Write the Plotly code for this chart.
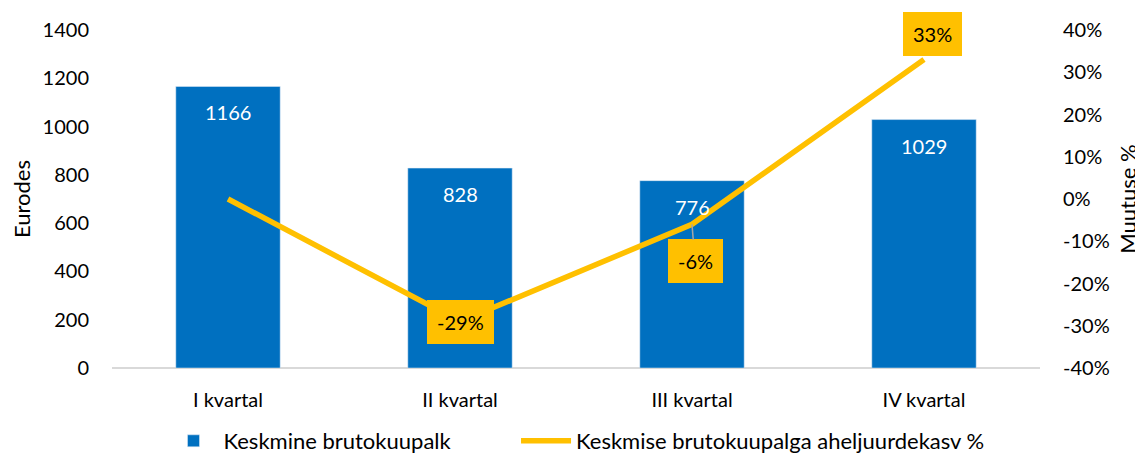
import plotly.graph_objects as go

categories = ["I kvartal", "II kvartal", "III kvartal", "IV kvartal"]
wages = [1166, 828, 776, 1029]
change = [0.0, -0.29, -0.06, 0.33]
change_labels = [None, "-29%", "-6%", "33%"]
y2_tickvals = [-0.4, -0.3, -0.2, -0.1, 0.0, 0.1, 0.2, 0.3, 0.4]
y2_ticktext = ["-40%", "-30%", "-20%", "-10%", "0%", "10%", "20%", "30%", "40%"]

BLUE = "#0070C0"
YELLOW = "#FFC000"
FONT = "Lato, 'Open Sans', sans-serif"

fig = go.Figure()
fig.add_trace(go.Bar(
    x=categories, y=wages, name="Keskmine brutokuupalk",
    marker_color=BLUE, width=0.45, hoverinfo="skip", legend="legend",
))
fig.add_trace(go.Scatter(
    x=categories, y=change, name="Keskmise brutokuupalga aheljuurdekasv %",
    mode="lines", line=dict(color=YELLOW, width=5.5), yaxis="y2", hoverinfo="skip",
    legend="legend2",
))

# bar value labels (white, inside near top)
for c, v in zip(categories, wages):
    fig.add_annotation(x=c, y=v, xref="x", yref="y", text=str(v), showarrow=False,
                       yanchor="middle", yshift=-26,
                       font=dict(color="white", size=20, family=FONT))

offsets = {1: (0, 0, False), 2: (3, 37, True), 3: (8, -26, False)}
for i, lab in enumerate(change_labels):
    if lab is None:
        continue
    ax, ay, arrow = offsets[i]
    fig.add_annotation(
        x=categories[i], y=change[i], xref="x", yref="y2", text=lab,
        showarrow=True, arrowhead=0, arrowwidth=1.5,
        arrowcolor="#A6A6A6" if arrow else "rgba(0,0,0,0)",
        ax=ax, ay=ay, standoff=0,
        bgcolor=YELLOW, borderpad=9, bordercolor=YELLOW, borderwidth=1,
        font=dict(color="black", size=20, family=FONT),
    )

legend_common = dict(orientation="h", xanchor="left", xref="container",
                     y=-0.056, yanchor="bottom", yref="container",
                     font=dict(size=22), itemwidth=50, bgcolor="rgba(0,0,0,0)")

fig.update_layout(
    width=1135, height=454,
    margin=dict(l=104, r=103, t=22, b=94, autoexpand=False),
    plot_bgcolor="white", paper_bgcolor="white",
    font=dict(family=FONT, size=20, color="black"),
    showlegend=True,
    legend=dict(x=0.137, **legend_common),
    legend2=dict(x=0.4476, **legend_common),
    xaxis=dict(showgrid=False, showline=False, ticks="", automargin=False,
               tickfont=dict(size=20), ticklabelstandoff=18),
    yaxis=dict(range=[0, 1400], dtick=200, showgrid=False, zeroline=True,
               zerolinecolor="#D9D9D9", zerolinewidth=1.5, automargin=False,
               title=dict(text="Eurodes", font=dict(size=22), standoff=16),
               tickfont=dict(size=20), ticklabelstandoff=22),
    yaxis2=dict(range=[-0.4, 0.4], tickvals=y2_tickvals, ticktext=y2_ticktext,
                overlaying="y", side="right", showgrid=False, zeroline=False,
                automargin=False,
                title=dict(text="Muutuse %", font=dict(size=22), standoff=11),
                tickfont=dict(size=20), ticklabelstandoff=22),
    hovermode=False,
)

fig.write_html("out.html")
